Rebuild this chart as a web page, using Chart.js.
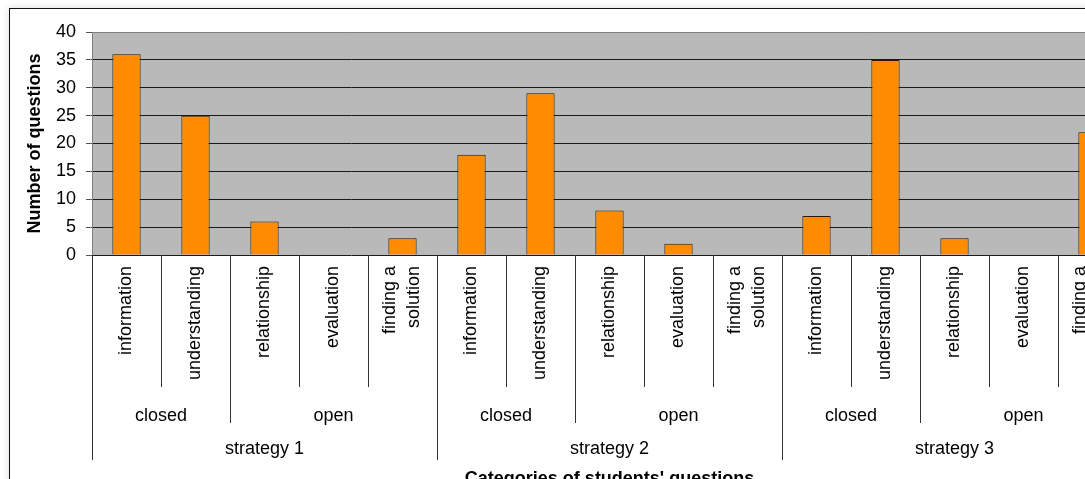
<!DOCTYPE html>
<html>
<head>
<meta charset="utf-8">
<script src="https://cdn.jsdelivr.net/npm/chart.js@4/dist/chart.umd.min.js"></script>
<style>
  html, body { margin: 0; padding: 0; overflow: hidden; background: #fff; }
  #frame {
    position: absolute; left: 9px; top: 8px; width: 1300px; height: 700px;
    border: 1px solid #111; background: #fff;
    box-shadow: 0 0 8px rgba(0, 0, 0, 0.15);
  }
  #chart { position: absolute; left: 0; top: 0; z-index: 1; }
</style>
</head>
<body>
<div id="frame"></div>
<canvas id="chart" width="1150" height="520"></canvas>
<script>
// question categories (repeated for every strategy)
const questionTypes = ['information', 'understanding', 'relationship', 'evaluation', ['finding a', 'solution']];
const questionKinds = ['closed', 'closed', 'open', 'open', 'open'];
const strategies = ['strategy 1', 'strategy 2', 'strategy 3'];

// number of questions per category
const strategy1Counts = [36, 25, 6, 0, 3];
const strategy2Counts = [18, 29, 8, 2, 0];
const strategy3Counts = [7, 35, 3, 0, 22];

const yTicks = [0, 5, 10, 15, 20, 25, 30, 35, 40];

const labels = [];
const kinds = [];
const groups = [];
strategies.forEach(s => {
  questionTypes.forEach((t, i) => {
    labels.push(t);
    kinds.push(questionKinds[i]);
    groups.push(s);
  });
});
const counts = [...strategy1Counts, ...strategy2Counts, ...strategy3Counts];

const FONT = '"Liberation Sans", Arial, sans-serif';

// grey plot background
const plotBackground = {
  id: 'plotBackground',
  beforeDraw(chart) {
    const { ctx, chartArea: a } = chart;
    ctx.save();
    ctx.fillStyle = '#b9b9b9';
    ctx.fillRect(a.left, a.top, a.right - a.left, a.bottom - a.top);
    ctx.restore();
  }
};

// multi level category axis: labels, kinds, strategies and the divider lines
const groupedAxis = {
  id: 'groupedAxis',
  afterDraw(chart) {
    const { ctx, chartArea: a } = chart;
    const x = chart.scales.x;
    const step = x.getPixelForValue(1) - x.getPixelForValue(0);
    const edge = i => Math.round(x.getPixelForValue(i) - step / 2) + 0.5;
    const base = a.bottom;

    ctx.save();
    ctx.strokeStyle = '#333';
    ctx.lineWidth = 1;
    for (let i = 0; i <= labels.length; i++) {
      let end = base + 132;
      if (i === 0 || i === labels.length || groups[i] !== groups[i - 1]) end = base + 205;
      else if (kinds[i] !== kinds[i - 1]) end = base + 168;
      ctx.beginPath();
      ctx.moveTo(edge(i), base);
      ctx.lineTo(edge(i), end);
      ctx.stroke();
    }

    ctx.fillStyle = '#000';
    ctx.font = '18px ' + FONT;
    // rotated category names
    labels.forEach((lab, i) => {
      const lines = Array.isArray(lab) ? lab : [lab];
      const cx = x.getPixelForValue(i);
      ctx.save();
      ctx.translate(cx, base + 11);
      ctx.rotate(-Math.PI / 2);
      ctx.textAlign = 'right';
      ctx.textBaseline = 'middle';
      lines.forEach((ln, j) => {
        ctx.fillText(ln, 0, (j - (lines.length - 1) / 2) * 24);
      });
      ctx.restore();
    });

    // closed / open spans
    ctx.textAlign = 'center';
    ctx.textBaseline = 'alphabetic';
    let start = 0;
    for (let i = 1; i <= labels.length; i++) {
      if (i === labels.length || kinds[i] !== kinds[i - 1] || groups[i] !== groups[i - 1]) {
        const mid = (x.getPixelForValue(start) + x.getPixelForValue(i - 1)) / 2;
        ctx.fillText(kinds[start], mid, base + 166);
        start = i;
      }
    }
    // strategy spans
    start = 0;
    for (let i = 1; i <= labels.length; i++) {
      if (i === labels.length || groups[i] !== groups[i - 1]) {
        const mid = (x.getPixelForValue(start) + x.getPixelForValue(i - 1)) / 2;
        ctx.fillText(groups[start], mid, base + 199);
        start = i;
      }
    }
    // axis title
    ctx.font = 'bold 18px ' + FONT;
    ctx.fillText("Categories of students' questions", (a.left + a.right) / 2, base + 229);
    ctx.restore();
  }
};

new Chart(document.getElementById('chart'), {
  type: 'bar',
  data: {
    labels: labels,
    datasets: [{
      data: counts,
      backgroundColor: '#ff8c00',
      borderColor: '#2b1a00',
      borderWidth: 1,
      barPercentage: 0.41,
      categoryPercentage: 1
    }]
  },
  options: {
    responsive: false,
    animation: false,
    layout: { padding: { left: 0, top: 32, right: 23, bottom: 265 } },
    plugins: {
      legend: { display: false },
      tooltip: { enabled: false }
    },
    scales: {
      x: {
        display: false
      },
      y: {
        min: 0,
        max: 40,
        afterBuildTicks(scale) {
          scale.ticks = yTicks.map(v => ({ value: v }));
        },
        afterFit(scale) { scale.width = 92; },
        border: { color: '#808080', width: 1 },
        grid: {
          color: c => (c.tick && c.tick.value === 40 ? '#808080' : '#1a1a1a'),
          tickColor: '#555',
          tickLength: 6
        },
        ticks: {
          color: '#000',
          padding: 10,
          font: { family: FONT, size: 18 }
        },
        title: {
          display: true,
          text: 'Number of questions',
          color: '#000',
          padding: { top: 24, bottom: 0 },
          font: { family: FONT, size: 18, weight: 'bold' }
        }
      }
    }
  },
  plugins: [plotBackground, groupedAxis]
});
</script>
</body>
</html>
